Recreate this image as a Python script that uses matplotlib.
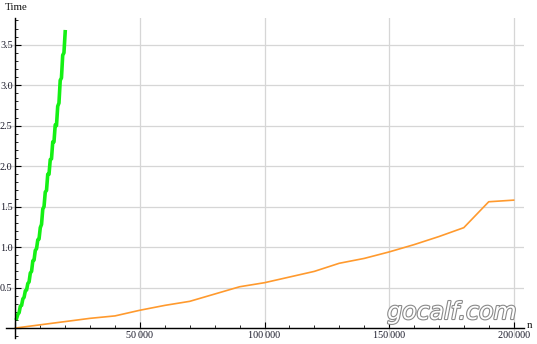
import matplotlib
matplotlib.use("Agg")
import matplotlib.pyplot as plt
from matplotlib.ticker import MultipleLocator, FuncFormatter
import matplotlib.patheffects as pe

# Data
green_n = [500, 1000, 1500, 2000, 2500, 3000, 3500, 4000, 4500, 5000,
           5500, 6000, 6500, 7000, 7500, 8000, 8500, 9000, 9500, 10000,
           10500, 11000, 11500, 12000, 12500, 13000, 13500, 14000, 14500, 15000,
           15500, 16000, 16500, 17000, 17500, 18000, 18500, 19000, 19500, 20000]
green_t = [0.12, 0.17, 0.19, 0.27, 0.28, 0.36, 0.38, 0.46, 0.47, 0.55,
           0.57, 0.68, 0.70, 0.83, 0.84, 0.96, 0.98, 1.09, 1.10, 1.24,
           1.28, 1.47, 1.50, 1.68, 1.70, 1.90, 1.90, 2.08, 2.09, 2.30,
           2.30, 2.51, 2.50, 2.74, 2.78, 3.06, 3.09, 3.37, 3.40, 3.66]

orange_n = [0, 10000, 20000, 30000, 40000, 50000, 60000, 70000, 80000, 90000,
            100000, 110000, 120000, 130000, 140000, 150000, 160000, 170000,
            180000, 190000, 200000]
orange_t = [0.0, 0.04, 0.08, 0.12, 0.15, 0.22, 0.28, 0.33, 0.42, 0.51,
            0.56, 0.63, 0.70, 0.80, 0.86, 0.94, 1.03, 1.13,
            1.24, 1.56, 1.58]

W, H = 537, 344
fig = plt.figure(figsize=(W / 100, H / 100), dpi=100)
x0, x1 = 5.9, 523.6
y0, y1 = 338, 18
ax = fig.add_axes([x0 / W, 1 - y0 / H, (x1 - x0) / W, (y0 - y1) / H])
ax.set_xlim(-3800, 204000)
ax.set_ylim(-0.123, 3.83)

ax.plot(orange_n, orange_t, color="#ff9a2e", lw=1.2, zorder=3)
ax.plot(green_n, green_t, color="#14f014", lw=2.6, zorder=4)

for s in ["top", "right"]:
    ax.spines[s].set_visible(False)
ax.spines["left"].set_position(("data", 0))
ax.spines["bottom"].set_position(("data", 0))
for s in ["left", "bottom"]:
    ax.spines[s].set_linewidth(1.0)
    ax.spines[s].set_zorder(5)

ax.xaxis.set_major_locator(MultipleLocator(50000))
ax.xaxis.set_minor_locator(MultipleLocator(10000))
ax.yaxis.set_major_locator(MultipleLocator(0.5))
ax.yaxis.set_minor_locator(MultipleLocator(0.1))

def xfmt(v, pos):
    if abs(v) < 1:
        return ""
    s = f"{int(round(v)):,}".replace(",", "\u2009")
    return s

def yfmt(v, pos):
    if abs(v) < 1e-9:
        return ""
    return f"{v:.1f}"

ax.xaxis.set_major_formatter(FuncFormatter(xfmt))
ax.yaxis.set_major_formatter(FuncFormatter(yfmt))

ax.tick_params(which="major", direction="in", length=4, width=0.8,
               labelsize=7.3, labelcolor="#1a1a2a", pad=2)
ax.tick_params(which="minor", direction="in", length=2.2, width=0.6)
for lab in ax.get_xticklabels() + ax.get_yticklabels():
    lab.set_family("Liberation Serif")

ax.grid(True, which="major", color="#d6d6d6", lw=0.9)
ax.set_axisbelow(True)

fig.text(5 / W, 1 - 8 / H, "Time", family="Liberation Serif", fontsize=7.8,
         ha="left", va="center", color="#111111")
fig.text(527 / W, 1 - 326 / H, "n", family="Liberation Serif", fontsize=7.8,
         ha="left", va="center", color="#111111")

fig.text(452 / W, 1 - 312 / H, "gocalf.com", fontsize=17, style="italic",
         family="DejaVu Sans", color="white", ha="center", va="center",
         rotation=0, zorder=10,
         path_effects=[pe.withStroke(linewidth=1.6, foreground="#8a8a8a")])

fig.savefig("out.png", dpi=100)
